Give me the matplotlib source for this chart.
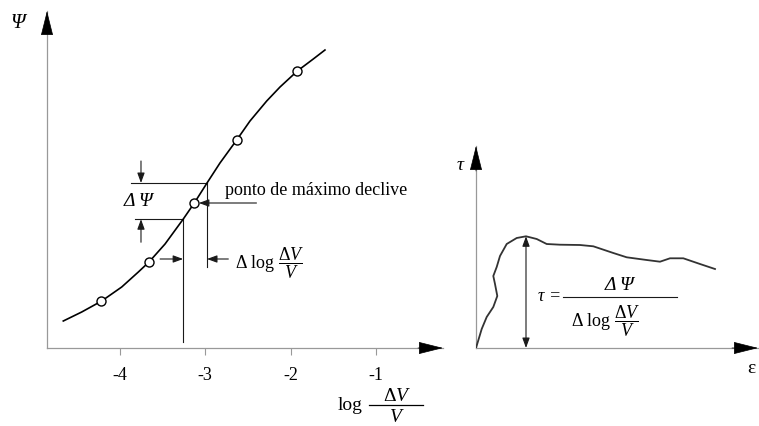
import numpy as np
import matplotlib
matplotlib.use("Agg")
import matplotlib.pyplot as plt

plt.rcParams["font.family"] = ["Liberation Serif", "DejaVu Serif"]
plt.rcParams["mathtext.fontset"] = "custom"
plt.rcParams["mathtext.rm"] = "Liberation Serif"
plt.rcParams["mathtext.it"] = "Liberation Serif:italic"
plt.rcParams["mathtext.bf"] = "Liberation Serif:bold"
plt.rcParams["axes.unicode_minus"] = False

# --- left panel: suction vs log of volumetric change ---
log_dv = [-4.665, -4.449, -4.215, -3.980, -3.785, -3.660, -3.472, -3.258, -3.129,
          -2.980, -2.828, -2.632, -2.476, -2.280, -2.124, -1.921, -1.734, -1.597]
psi = [0.27, 0.36, 0.47, 0.61, 0.76, 0.86, 1.04, 1.29, 1.45,
       1.65, 1.85, 2.08, 2.27, 2.47, 2.61, 2.77, 2.89, 2.98]
pts_log_dv = [-4.22, -3.66, -3.13, -2.63, -1.92]
pts_psi = [0.47, 0.86, 1.45, 2.08, 2.77]
x_ticks = [-4, -3, -2, -1]
x_tick_labels = ["-4", "-3", "-2", "-1"]
slope_lo, slope_hi = -3.26, -2.98

# --- right panel: shear stress vs strain ---
strain = [0.0, 0.057, 0.107, 0.173, 0.213, 0.19, 0.173, 0.207, 0.24, 0.307, 0.407,
          0.50, 0.607, 0.707, 0.84, 1.04, 1.173, 1.373, 1.507, 1.707, 1.84, 1.94,
          2.073, 2.24, 2.39]
tau = [0.0, 0.19, 0.31, 0.41, 0.52, 0.64, 0.72, 0.81, 0.92, 1.04, 1.10,
       1.117, 1.09, 1.04, 1.033, 1.03, 1.017, 0.95, 0.907, 0.88, 0.863, 0.897,
       0.897, 0.84, 0.79]

W, H = 759, 427
fig = plt.figure(figsize=(W / 100, H / 100), dpi=100)
fig.patch.set_facecolor("white")

AX_GRAY = "#999999"
INK = "#1a1a1a"


def big_head(ax, tip, tail):
    ax.annotate("", xy=tip, xytext=tail, xycoords="axes fraction",
                textcoords="axes fraction",
                arrowprops=dict(arrowstyle="-|>,head_length=1.6,head_width=0.4",
                                mutation_scale=10, color="black", lw=0.5,
                                shrinkA=0, shrinkB=0),
                annotation_clip=False)


def small_arrow(ax, tip, tail, style="-|>"):
    ax.annotate("", xy=tip, xytext=tail,
                arrowprops=dict(arrowstyle=style + ",head_length=0.6,head_width=0.22",
                                mutation_scale=10, color=INK, lw=0.8,
                                shrinkA=0, shrinkB=0),
                annotation_clip=False)


def bare_axes(rect):
    ax = fig.add_axes(rect)
    for s in ax.spines.values():
        s.set_visible(False)
    ax.set_facecolor("none")
    ax.set_yticks([])
    return ax


# left axes
ax1 = bare_axes([47 / W, (H - 349) / H, (443 - 47) / W, (349 - 12) / H])
ax1.set_xlim(-4.856, -0.213)
ax1.set_ylim(0, 3.37)
ax1.set_xticks(x_ticks)
ax1.set_xticklabels(x_tick_labels)
ax1.tick_params(axis="x", direction="out", length=5, width=0.8, color=AX_GRAY,
                labelsize=13, pad=8, labelcolor="black")

ax1.plot([0, 1], [0, 0], color=AX_GRAY, lw=0.9, transform=ax1.transAxes, clip_on=False)
ax1.plot([0, 0], [0, 1], color=AX_GRAY, lw=0.9, transform=ax1.transAxes, clip_on=False)
big_head(ax1, (1, 0), (1 - 25 / 396, 0))
big_head(ax1, (0, 1), (0, 1 - 21 / 337))

ax1.plot(log_dv, psi, color="black", lw=1.2, zorder=3)
ax1.plot(pts_log_dv, pts_psi, "o", ms=6.5, mfc="white", mec="black", mew=1.0, zorder=4)

psi_lo = np.interp(slope_lo, log_dv, psi)
psi_hi = np.interp(slope_hi, log_dv, psi)
lw_a = 0.8
ax1.plot([-3.87, slope_hi], [psi_hi, psi_hi], color=INK, lw=lw_a)
ax1.plot([-3.82, slope_lo], [psi_lo, psi_lo], color=INK, lw=lw_a)
ax1.plot([slope_lo, slope_lo], [psi_lo, 0.06], color=INK, lw=lw_a)
ax1.plot([slope_hi, slope_hi], [psi_hi, 0.81], color=INK, lw=lw_a)

small_arrow(ax1, (-3.754, psi_hi), (-3.754, psi_hi + 0.22))
small_arrow(ax1, (-3.754, psi_lo), (-3.754, psi_lo - 0.23))
small_arrow(ax1, (slope_lo, 0.89), (slope_lo - 0.27, 0.89))
small_arrow(ax1, (slope_hi, 0.89), (slope_hi + 0.25, 0.89))
small_arrow(ax1, (-3.075, 1.45), (-2.40, 1.45))

ax1.text(-3.78, 1.48, "Δ Ψ", fontsize=14, style="italic",
         ha="center", va="center")
ax1.text(-2.769, 1.54, "ponto de máximo declive", fontsize=13, ha="left", va="baseline")
ax1.text(-2.652, 0.86, r"$\Delta\ \log\,\dfrac{\Delta V}{V}$", fontsize=13,
         ha="left", va="center")

# axis title: log (ΔV / V) with a wide fraction bar
ax1.text(-1.304, -0.61, "log", fontsize=14, ha="center", va="baseline", clip_on=False)
ax1.plot([-1.081, -0.448], [-0.565, -0.565], color="black", lw=0.9, clip_on=False)
ax1.text(-0.764, -0.52, "Δ", fontsize=14, ha="right", va="baseline", clip_on=False)
ax1.text(-0.764, -0.52, "V", fontsize=14, style="italic", ha="left", va="baseline",
         clip_on=False)
ax1.text(-0.764, -0.73, "V", fontsize=14, style="italic", ha="center", va="baseline",
         clip_on=False)

fig.text(18 / W, 1 - 24 / H, "Ψ", fontsize=15, style="italic",
         ha="center", va="center")

# right axes
ax2 = bare_axes([476 / W, (H - 349) / H, (758 - 476) / W, (349 - 147) / H])
ax2.set_xticks([])
ax2.set_xlim(0, 2.82)
ax2.set_ylim(0, 2.02)
ax2.plot([0, 1], [0, 0], color=AX_GRAY, lw=0.9, transform=ax2.transAxes, clip_on=False)
ax2.plot([0, 0], [0, 1], color=AX_GRAY, lw=0.9, transform=ax2.transAxes, clip_on=False)
big_head(ax2, (1, 0), (1 - 26 / 282, 0))
big_head(ax2, (0, 1), (0, 1 - 25 / 202))

ax2.plot(strain, tau, color="#333333", lw=1.3, zorder=3)

i_peak = int(np.argmax(tau))
small_arrow(ax2, (strain[i_peak], tau[i_peak]), (strain[i_peak], 0.0), style="<|-|>")

ax2.text(0.85, 0.52, "τ =", fontsize=13, style="italic", ha="right", va="center")
ax2.plot([0.87, 2.01], [0.51, 0.51], color=INK, lw=0.8)
ax2.text(1.44, 0.55, "Δ Ψ", fontsize=14, style="italic",
         ha="center", va="bottom")
ax2.text(1.30, 0.46, r"$\Delta\ \log\,\dfrac{\Delta V}{V}$", fontsize=13,
         ha="center", va="top")

fig.text(460 / W, 1 - 165 / H, "τ", fontsize=14, style="italic", ha="center", va="center")
fig.text(751 / W, 1 - 369 / H, "ε", fontsize=14, ha="center", va="center")

fig.savefig("out.png", dpi=100)
